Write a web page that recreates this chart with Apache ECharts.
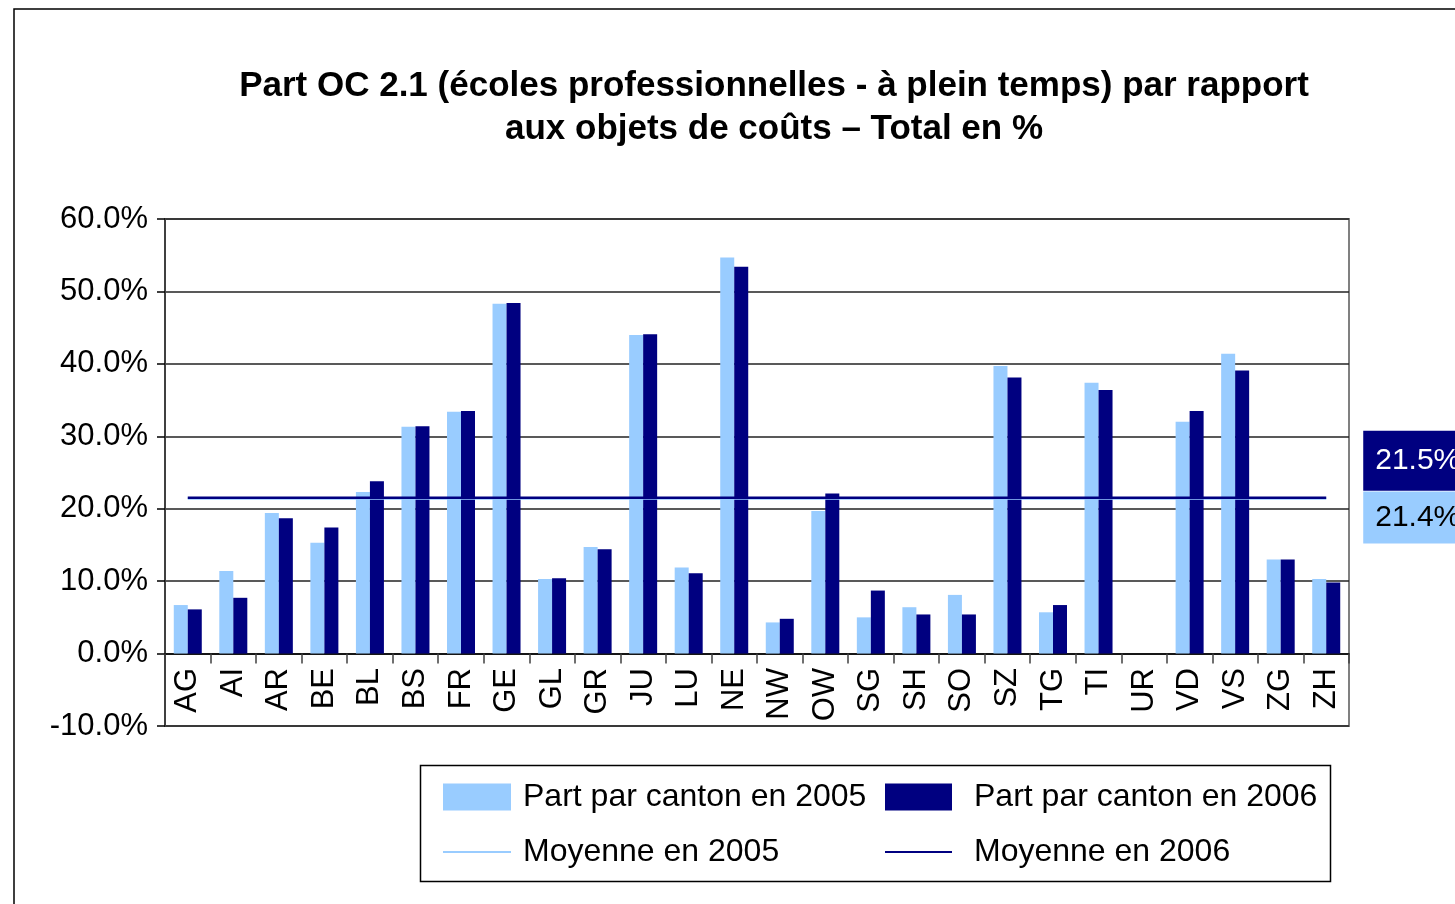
<!DOCTYPE html>
<html>
<head>
<meta charset="utf-8">
<script src="https://cdn.jsdelivr.net/npm/echarts@6/dist/echarts.min.js"></script>
<style>
  html, body { margin: 0; padding: 0; background: #fff; overflow: hidden; }
  #chart { width: 1455px; height: 904px; }
</style>
</head>
<body>
<div id="chart"></div>
<script>
const cantons = ['AG', 'AI', 'AR', 'BE', 'BL', 'BS', 'FR', 'GE', 'GL', 'GR', 'JU', 'LU', 'NE',
    'NW', 'OW', 'SG', 'SH', 'SO', 'SZ', 'TG', 'TI', 'UR', 'VD', 'VS', 'ZG', 'ZH'];
const part2005 = [6.7, 11.4, 19.4, 15.3, 22.3, 31.3, 33.4, 48.3, 10.3, 14.7, 44.0, 11.9, 54.7,
    4.3, 19.7, 5.0, 6.4, 8.1, 39.7, 5.7, 37.4, null, 32.0, 41.4, 13.0, 10.3];
const part2006 = [6.1, 7.7, 18.7, 17.4, 23.8, 31.4, 33.5, 48.4, 10.4, 14.4, 44.1, 11.1, 53.4,
    4.8, 22.1, 8.7, 5.4, 5.4, 38.1, 6.7, 36.4, null, 33.5, 39.1, 13.0, 9.8];
const moyenne2005 = 21.4;
const moyenne2006 = 21.5;
const yTicks = { min: -10, max: 60, step: 10 };

const fontName = '"Liberation Sans", Arial, sans-serif';
const lightBlue = '#99ccff';
const navy = '#000080';

let chartDom = document.getElementById('chart');
let myChart = echarts.init(chartDom);
let option;

// legend text style shared by both columns
const legendText = (padLeft) => ({
    fontFamily: fontName, fontSize: 32, color: '#000', padding: [0, 0, 0, padLeft]
});

option = {
    backgroundColor: '#fff',
    animation: false,
    textStyle: { fontFamily: fontName, color: '#000' },
    title: {
        text: 'Part OC 2.1 (écoles professionnelles - à plein temps) par rapport\naux objets de coûts – Total en %',
        left: 769,
        top: 60,
        textAlign: 'center',
        textStyle: {
            fontFamily: fontName,
            fontSize: 35,
            fontWeight: 'bold',
            lineHeight: 43,
            color: '#000'
        }
    },
    // outer frame and legend box
    graphic: [{
        type: 'rect',
        shape: { x: 14, y: 9, width: 1500, height: 1000 },
        style: { fill: 'none', stroke: '#000', lineWidth: 1.5 },
        silent: true
    }, {
        type: 'rect',
        shape: { x: 420.5, y: 765.5, width: 910, height: 116 },
        style: { fill: '#fff', stroke: '#000', lineWidth: 1.5 },
        z: -1,
        silent: true
    }],
    legend: [{
        data: [
            { name: 'Part par canton en 2005', icon: 'rect' },
            { name: 'Moyenne en 2005', itemStyle: { opacity: 0 } }
        ],
        orient: 'vertical',
        left: 437,
        top: 776,
        itemWidth: 68,
        itemHeight: 27,
        itemGap: 23,
        textStyle: legendText(7)
    }, {
        data: [
            { name: 'Part par canton en 2006', icon: 'rect' },
            { name: 'Moyenne en 2006', itemStyle: { opacity: 0 } }
        ],
        orient: 'vertical',
        left: 879,
        top: 776,
        itemWidth: 67,
        itemHeight: 27,
        itemGap: 23,
        textStyle: legendText(17)
    }],
    grid: {
        left: 165,
        right: 106,
        top: 219,
        bottom: 178,
        show: true,
        borderColor: '#808080',
        borderWidth: 2,
        outerBoundsMode: 'none'
    },
    xAxis: {
        type: 'category',
        data: cantons,
        axisLine: { onZero: true, lineStyle: { color: '#000', width: 1.5 } },
        axisTick: { show: true, length: 10, lineStyle: { color: '#404040', width: 1.5 } },
        axisLabel: {
            rotate: 90,
            margin: -58,
            interval: 0,
            fontSize: 31,
            color: '#000',
            fontFamily: fontName
        }
    },
    yAxis: {
        type: 'value',
        min: yTicks.min,
        max: yTicks.max,
        interval: yTicks.step,
        axisLine: { show: true, lineStyle: { color: '#404040', width: 2 } },
        axisTick: { show: true, length: 8, lineStyle: { color: '#000', width: 1.5 } },
        axisLabel: {
            margin: 17,
            fontSize: 31,
            color: '#000',
            fontFamily: fontName,
            padding: [6, 0, 0, 0],
            formatter: v => v.toFixed(1) + '%'
        },
        splitLine: { show: true, lineStyle: { color: '#222', width: 1.5 } }
    },
    series: [{
            name: 'Part par canton en 2005',
            type: 'bar',
            data: part2005,
            barWidth: 14,
            barGap: '0%',
            itemStyle: { color: lightBlue }
        }, {
            name: 'Part par canton en 2006',
            type: 'bar',
            data: part2006,
            barWidth: 14,
            itemStyle: { color: navy }
        },
        {
            name: 'Moyenne en 2005',
            type: 'line',
            symbol: 'none',
            data: cantons.map(() => moyenne2005),
            lineStyle: { color: lightBlue, width: 2.5 },
            itemStyle: { color: lightBlue },
            endLabel: {
                show: true,
                distance: 0,
                offset: [37, 19],
                formatter: p => p.value.toFixed(1) + '%',
                backgroundColor: lightBlue,
                color: '#000',
                fontSize: 30,
                fontFamily: fontName,
                padding: [11, 40, 11, 12]
            }
        },
        {
            name: 'Moyenne en 2006',
            type: 'line',
            symbol: 'none',
            data: cantons.map(() => moyenne2006),
            lineStyle: { color: navy, width: 2.5 },
            itemStyle: { color: navy },
            endLabel: {
                show: true,
                distance: 0,
                offset: [37, -37],
                formatter: p => p.value.toFixed(1) + '%',
                backgroundColor: navy,
                color: '#fff',
                fontSize: 30,
                fontFamily: fontName,
                padding: [15, 40, 15, 12]
            }
        }
    ]
};

option && myChart.setOption(option);
</script>
</body>
</html>
